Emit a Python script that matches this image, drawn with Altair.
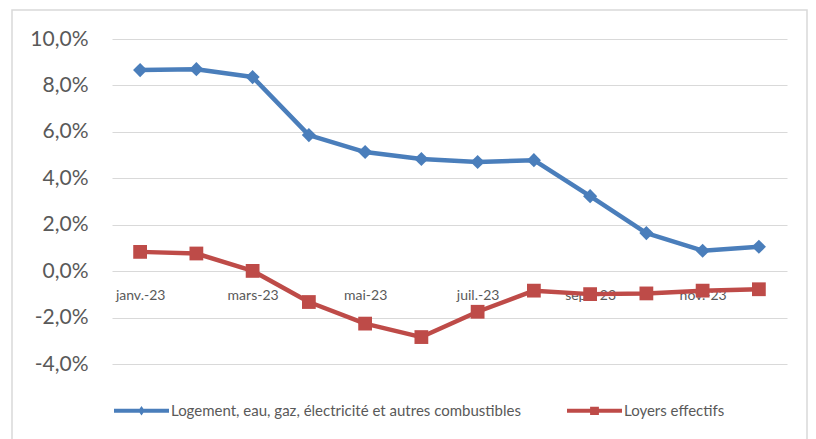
import altair as alt
import pandas as pd

months = ["janv.-23", "févr.-23", "mars-23", "avr.-23", "mai-23", "juin-23",
          "juil.-23", "août-23", "sept.-23", "oct.-23", "nov.-23", "déc.-23"]
s1_name = "Logement, eau, gaz, électricité et autres combustibles"
s2_name = "Loyers effectifs"
s1_values = [8.66, 8.70, 8.36, 5.86, 5.13, 4.83, 4.70, 4.78, 3.23, 1.64, 0.88, 1.05]
s2_values = [0.83, 0.76, 0.01, -1.33, -2.26, -2.84, -1.75, -0.84, -0.99, -0.96, -0.84, -0.78]
y_ticks = [-4, -2, 0, 2, 4, 6, 8, 10]
x_label_months = months[::2]

series = [s1_name, s2_name]
colors = ["#4A7EBB", "#BE4B48"]

rows = []
for m, v in zip(months, s1_values):
    rows.append({"month": m, "series": s1_name, "value": v})
for m, v in zip(months, s2_values):
    rows.append({"month": m, "series": s2_name, "value": v})
df = pd.DataFrame(rows)

FONT = "Lato"
W, H = 675, 325

x_enc = alt.X("month:N", sort=months,
              scale=alt.Scale(type="point", padding=0.5),
              axis=alt.Axis(values=x_label_months, title=None, domain=False, ticks=False,
                            grid=False, labelAngle=0, offset=-93, labelPadding=17,
                            labelFont=FONT, labelFontSize=14, labelColor="#595959"))
y_enc = alt.Y("value:Q",
              scale=alt.Scale(domain=[-4, 10], nice=False, zero=False),
              axis=alt.Axis(values=y_ticks, title=None, domain=False, ticks=False,
                            grid=True, gridColor="#D9D9D9", gridWidth=1,
                            labelExpr="replace(replace(format(datum.value, '.1f'), '.', ','), '\u2212', '-') + '%'",
                            labelPadding=24, labelFont=FONT, labelFontSize=21,
                            labelColor="#595959"))
color_scale = alt.Scale(domain=series, range=colors)

leg_diamond = "M-1,-0.075L1,-0.075L1,0.075L-1,0.075Z M0,-0.17L0.12,0L0,0.17L-0.12,0Z"
leg_square = "M-1,-0.075L1,-0.075L1,0.075L-1,0.075Z M-0.16,-0.15L0.16,-0.15L0.16,0.15L-0.16,0.15Z"

legend_def = alt.Legend(title=None, orient="none", direction="horizontal",
                        legendX=2, legendY=344, labelFont=FONT, labelFontSize=15,
                        labelColor="#595959", labelOffset=2, columnPadding=46,
                        symbolOpacity=1, symbolSize=3025, symbolStrokeWidth=0,
                        labelLimit=500)

color_enc = alt.Color("series:N", scale=color_scale, legend=legend_def)

base = alt.Chart(df)

lines = base.mark_line(strokeWidth=4.5, strokeJoin="round", strokeCap="round").encode(
    x=x_enc, y=y_enc, color=color_enc, detail="series:N",
)

points1 = base.transform_filter(alt.datum.series == s1_name).mark_point(
    filled=True, opacity=1, size=200, shape="diamond").encode(
    x=x_enc, y=y_enc, color=color_enc)

points2 = base.transform_filter(alt.datum.series == s2_name).mark_point(
    filled=True, opacity=1, size=190, shape="square").encode(
    x=x_enc, y=y_enc, color=color_enc)

legend_layer = base.mark_point(filled=True, opacity=0, size=10).encode(
    x=x_enc, y=y_enc, color=color_enc,
    shape=alt.Shape("series:N", scale=alt.Scale(domain=series, range=[leg_diamond, leg_square]),
                    legend=legend_def),
)

frame = alt.Chart(pd.DataFrame({"a": [0]})).mark_rect(
    fillOpacity=0, stroke="#D9D9D9", strokeWidth=1.5).encode(
    x=alt.value(-100), x2=alt.value(W + 20), y=alt.value(-29), y2=alt.value(H + 120)
)

chart = alt.layer(frame, lines, points1, points2, legend_layer).properties(
    width=W, height=H,
    autosize=alt.AutoSizeParams(type="none"),
    padding={"left": 104, "top": 31, "right": 21, "bottom": 75},
).configure_view(stroke=None)

chart.save("out.html", embed_options={"renderer": "svg", "actions": False})
